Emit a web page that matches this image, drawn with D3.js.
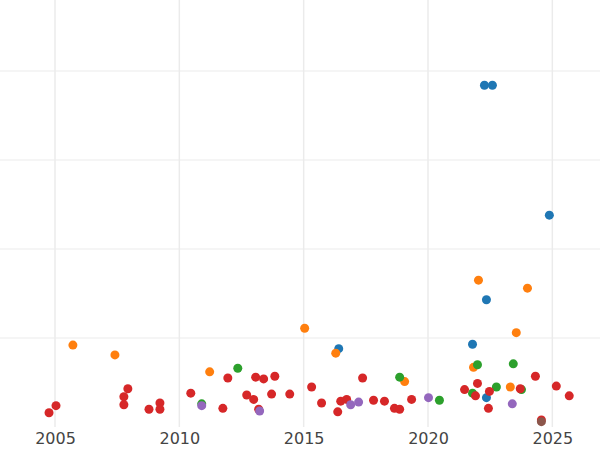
<!DOCTYPE html>
<html>
<head>
<meta charset="utf-8">
<script src="https://cdn.jsdelivr.net/npm/d3@7"></script>
<style>
  body { margin: 0; background: #fff; }
  svg { display: block; font-family: "DejaVu Sans", sans-serif; }
</style>
</head>
<body>
<svg width="600" height="450"></svg>
<script>
// Каждая серия: годы и значения
const seriesColors = ["#1f77b4", "#ff7f0e", "#2ca02c", "#d62728", "#9467bd", "#8c564b"];

const blueYears = [2022.27, 2022.59, 2024.88, 2022.35, 2021.79, 2016.41, 2022.35];
const blueValues = [3.84, 3.84, 2.38, 1.43, 0.93, 0.88, 0.33];

const orangeYears = [2005.72, 2007.41, 2011.22, 2015.04, 2016.29, 2019.06, 2021.83, 2022.03, 2024.00, 2023.55, 2023.31];
const orangeValues = [0.92, 0.81, 0.62, 1.11, 0.83, 0.51, 0.67, 1.65, 1.56, 1.06, 0.45];

const greenYears = [2010.90, 2012.35, 2018.86, 2020.46, 2021.99, 2021.79, 2022.75, 2023.43, 2023.76];
const greenValues = [0.26, 0.66, 0.56, 0.30, 0.70, 0.38, 0.45, 0.71, 0.42];

const redYears = [2004.76, 2005.04, 2007.77, 2007.77, 2007.93, 2008.78, 2009.22, 2009.22, 2010.46, 2011.75,
    2011.95, 2012.71, 2012.99, 2013.07, 2013.19, 2013.39, 2013.71, 2013.84, 2014.44, 2015.32,
    2015.72, 2016.37, 2016.49, 2016.73, 2017.37, 2017.81, 2018.25, 2018.65, 2018.86, 2019.34,
    2021.47, 2021.91, 2021.99, 2022.43, 2022.47, 2023.71, 2024.32, 2024.56, 2025.16, 2025.68];
const redValues = [0.16, 0.24, 0.34, 0.25, 0.43, 0.20, 0.27, 0.20, 0.38, 0.21,
    0.55, 0.36, 0.31, 0.56, 0.20, 0.54, 0.37, 0.57, 0.37, 0.45,
    0.27, 0.17, 0.29, 0.31, 0.55, 0.30, 0.29, 0.21, 0.20, 0.31,
    0.42, 0.35, 0.49, 0.21, 0.40, 0.43, 0.57, 0.08, 0.46, 0.35];

const purpleYears = [2010.90, 2013.23, 2016.89, 2017.21, 2020.02, 2023.39];
const purpleValues = [0.24, 0.18, 0.25, 0.28, 0.33, 0.26];

const brownYears = [2024.56];
const brownValues = [0.06];

const xTicks = [2005, 2010, 2015, 2020, 2025];
const yGrid = [1, 2, 3, 4];

const series = [
    [blueYears, blueValues],
    [orangeYears, orangeValues],
    [greenYears, greenValues],
    [redYears, redValues],
    [purpleYears, purpleValues],
    [brownYears, brownValues]
];

const svg = d3.select("svg");
const width = 600, plotBottom = 427;

const scaleX = d3.scaleLinear().domain([2005, 2020]).range([55, 428]);
const scaleY = d3.scaleLinear().domain([0, 4]).range([plotBottom, 71]);

// сетка
svg.append("g").selectAll("line")
    .data(yGrid).enter().append("line")
    .attr("x1", 0).attr("x2", width)
    .attr("y1", d => scaleY(d)).attr("y2", d => scaleY(d))
    .attr("stroke", "#ebebeb").attr("stroke-width", 1);

svg.append("g").selectAll("line")
    .data(xTicks).enter().append("line")
    .attr("x1", d => scaleX(d)).attr("x2", d => scaleX(d))
    .attr("y1", 0).attr("y2", plotBottom)
    .attr("stroke", "#ebebeb").attr("stroke-width", 1.5);

// ось X без линии, только подписи
const axisX = d3.axisBottom(scaleX).tickValues(xTicks).tickFormat(d3.format("d")).tickSize(0).tickPadding(6);
const gx = svg.append("g").attr("transform", `translate(0, ${plotBottom})`).call(axisX);
gx.select(".domain").remove();
gx.selectAll("text").attr("fill", "#444").style("font-size", "16px")
    .style("font-family", "DejaVu Sans, sans-serif");

// точки
series.forEach((s, i) => {
    const pts = s[0].map((yr, j) => ({ year: yr, value: s[1][j] }));
    svg.append("g").selectAll("circle")
        .data(pts).enter().append("circle")
        .attr("cx", d => scaleX(d.year))
        .attr("cy", d => scaleY(d.value))
        .attr("r", 4.5)
        .style("fill", seriesColors[i]);
});
</script>
</body>
</html>
